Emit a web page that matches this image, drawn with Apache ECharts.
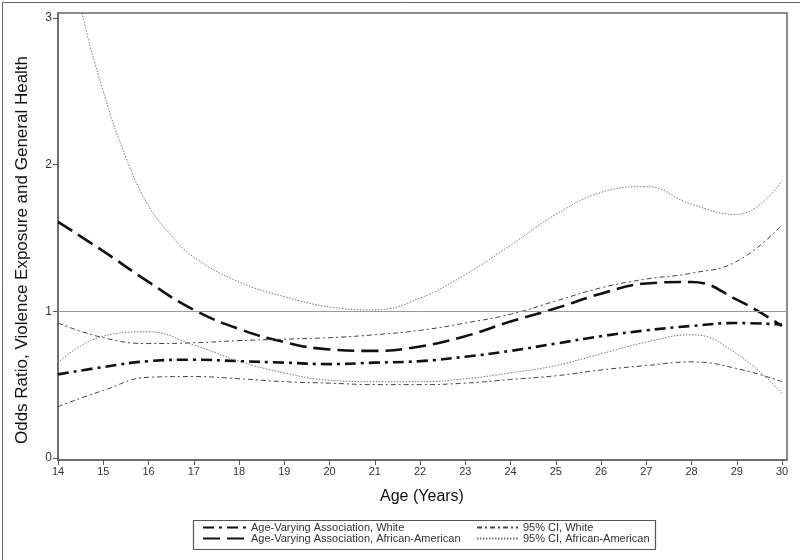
<!DOCTYPE html>
<html>
<head>
<meta charset="utf-8">
<script src="https://cdn.jsdelivr.net/npm/echarts@6/dist/echarts.min.js"></script>
<style>
html,body{margin:0;padding:0;background:#fff;}
#chart{width:800px;height:560px;}
</style>
</head>
<body>
<div id="chart"></div>
<script>
// ---- data ----
var ages = [14,15,16,17,18,19,20,21,22,23,24,25,26,27,28,29,30];
var assocWhite = [0.57,0.62,0.66,0.67,0.66,0.65,0.64,0.65,0.66,0.69,0.73,0.78,0.83,0.87,0.90,0.92,0.91];
var assocAA    = [1.61,1.41,1.20,1.01,0.88,0.79,0.74,0.73,0.76,0.83,0.93,1.02,1.12,1.19,1.20,1.08,0.90];
var ciWhiteUp  = [0.92,0.82,0.78,0.785,0.80,0.81,0.82,0.84,0.87,0.92,0.98,1.07,1.16,1.22,1.26,1.34,1.59];
var ciWhiteLo  = [0.35,0.46,0.55,0.555,0.54,0.52,0.51,0.50,0.50,0.51,0.535,0.56,0.60,0.63,0.655,0.61,0.52];
var agesAAUp   = [14,14.5,15,15.5,16,16.5,17,18,19,20,21,22,23,24,25,26,27,28,29,30];
var ciAAUp     = [3.9,3.08,2.5,2.05,1.72,1.52,1.37,1.20,1.10,1.03,1.01,1.09,1.25,1.45,1.66,1.81,1.85,1.73,1.66,1.89];
var ciAALo     = [0.65,0.83,0.86,0.77,0.66,0.58,0.53,0.52,0.52,0.54,0.58,0.63,0.71,0.79,0.84,0.71,0.44];
var yTicks = [0,1,2,3];
var xTicks = [14,15,16,17,18,19,20,21,22,23,24,25,26,27,28,29,30];

var NAME_W = 'Age-Varying Association, White';
var NAME_AA = 'Age-Varying Association, African-American';
var NAME_CIW = '95% CI, White';
var NAME_CIAA = '95% CI, African-American';
var Y_TITLE = 'Odds Ratio, Violence Exposure and General Health';
var X_TITLE = 'Age (Years)';

function pairs(xs, ys){ return xs.map(function(x,i){ return [x, ys[i]]; }); }

var chart = echarts.init(document.getElementById('chart'), null, {renderer:'canvas'});
var font = 'Arial, "Liberation Sans", sans-serif';

var styleW  = {color:'#111', width:2.6, type:[11,5,3,5]};
var styleAA = {color:'#111', width:2.6, type:[17,7]};
var styleCIW = {color:'#444', width:1, type:[5,3,2,3]};
var styleCIAA = {color:'#777', width:1, type:[1.5,1.5]};

function lineSeries(name, data, ls, extra){
  var s = {
    name: name, type:'line', data: data, smooth: 0.45, symbol:'none',
    lineStyle: ls, itemStyle:{color: ls.color}, clip:true, silent:true, animation:false
  };
  if (extra) for (var k in extra) s[k] = extra[k];
  return s;
}

var legendCommon = {
  orient:'vertical', top:517, itemHeight:12, itemGap:0,
  selectedMode:false, itemStyle:{opacity:0, borderWidth:0},
  textStyle:{fontSize:11, fontFamily:font, color:'#333'}
};

var option = {
  animation:false,
  backgroundColor:'#fff',
  grid:{left:58, right:13, top:13, bottom:100, show:true, borderColor:'#666', borderWidth:1.5, backgroundColor:'transparent'},
  xAxis:{
    type:'value', min:14, max:30.11,
    axisLine:{show:true, onZero:false, lineStyle:{color:'#666', width:1.5}},
    axisTick:{show:true, length:5, lineStyle:{color:'#555'}, customValues:xTicks},
    axisLabel:{color:'#333', fontSize:11, fontFamily:font, margin:6, customValues:xTicks},
    splitLine:{show:false}
  },
  yAxis:{
    type:'value', min:-0.014, max:3.034,
    axisLine:{show:true, onZero:false, lineStyle:{color:'#666', width:1.5}},
    axisTick:{show:true, length:5, lineStyle:{color:'#555'}, customValues:yTicks},
    axisLabel:{color:'#333', fontSize:12, fontFamily:font, margin:6, customValues:yTicks},
    splitLine:{show:false}
  },
  legend:[
    echarts.util.merge({data:[NAME_W, NAME_AA], left:197, itemWidth:43}, legendCommon),
    echarts.util.merge({data:[NAME_CIW, NAME_CIAA], left:471, itemWidth:41}, legendCommon)
  ],
  graphic:[
    {type:'rect', left:0, top:0, shape:{x:0.5,y:0.5,width:799,height:559}, style:{fill:'none', stroke:'#666', lineWidth:1}, silent:true},
    {type:'rect', left:191, top:518, shape:{x:0.5,y:0.5,width:462,height:29}, style:{fill:'none', stroke:'#555', lineWidth:1.2}, silent:true},
    {type:'text', x:22, y:250, rotation:Math.PI/2, silent:true,
     style:{text:Y_TITLE, font:'17px ' + font, fill:'#111', textAlign:'center', textVerticalAlign:'middle'}},
    {type:'text', x:422, y:497, silent:true,
     style:{text:X_TITLE, font:'16px ' + font, fill:'#111', textAlign:'center', textVerticalAlign:'middle'}}
  ],
  series:[
    lineSeries(NAME_W, pairs(ages, assocWhite), styleW, {
      markLine:{silent:true, symbol:'none', label:{show:false}, animation:false,
        lineStyle:{color:'#999', width:1, type:'solid'}, data:[{yAxis:1}]}
    }),
    lineSeries(NAME_AA, pairs(ages, assocAA), styleAA),
    lineSeries(NAME_CIW, pairs(ages, ciWhiteUp), styleCIW),
    lineSeries(NAME_CIW, pairs(ages, ciWhiteLo), styleCIW),
    lineSeries(NAME_CIAA, pairs(agesAAUp, ciAAUp), styleCIAA),
    lineSeries(NAME_CIAA, pairs(ages, ciAALo), styleCIAA)
  ]
};
chart.setOption(option);
</script>
</body>
</html>
